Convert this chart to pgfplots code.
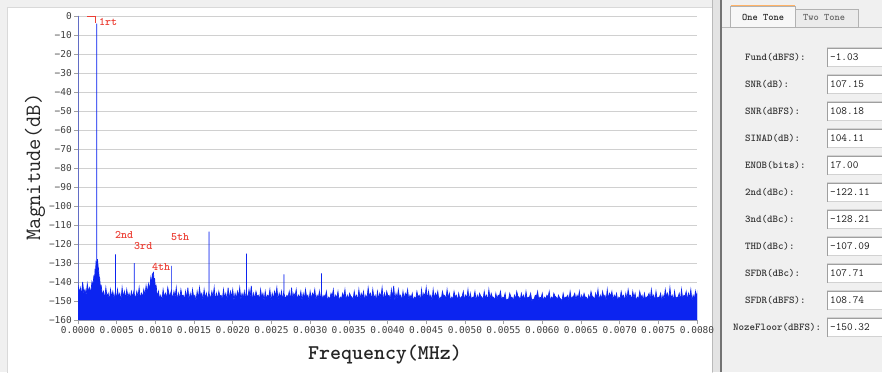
\documentclass[border=0pt]{standalone}
\usepackage{pgfplots}
\usepackage{pgfplotstable}
\pgfplotsset{compat=1.18}
\usepackage{fontspec}
\newfontfamily\tickfont{DejaVu Sans Mono}
\definecolor{specblue}{RGB}{12,36,240}
\definecolor{gridgray}{RGB}{208,208,208}
\definecolor{panelbg}{RGB}{240,240,240}
\definecolor{labred}{RGB}{236,62,52}
\newcommand{\fs}[1]{\fontsize{#1}{#1}\selectfont}

\pgfplotstableread[row sep=\\]{
x y\\
0 -160\\ 0 0\\ 0 -141\\ 0.15 -146\\ 0.3 -143\\ 0.45 -147\\ 0.6 -140\\ 0.75 -146\\ 0.9 -144\\ 1.05 -147\\ 1.2 -141\\ 1.35 -145\\ 1.5 -143\\ 1.65 -146\\ 1.8 -140\\ 1.92 -142\\ 2.05 -137\\ 2.15 -138\\ 2.2 -134\\ 2.27 -135\\ 2.32 -130\\ 2.38 -131\\ 2.42 -128\\ 2.42 -4\\ 2.42 -129\\ 2.47 -130\\ 2.52 -128\\ 2.6 -132\\ 2.65 -133\\ 2.72 -137\\ 2.8 -138\\ 2.9 -143\\ 3.0 -142\\
3.15 -147\\ 3.3 -145\\ 3.45 -149\\ 3.6 -143\\ 3.75 -148\\ 3.9 -146\\ 4.05 -150\\ 4.2 -144\\ 4.35 -148\\ 4.5 -145\\ 4.67 -149\\ 4.84 -145\\ 4.84 -125.5\\ 4.84 -146\\ 4.97 -149\\ 5.1 -144\\ 5.25 -148\\ 5.4 -146\\ 5.55 -150\\ 5.7 -143\\ 5.85 -148\\ 6.0 -145\\ 6.15 -149\\ 6.3 -144\\ 6.45 -148\\ 6.6 -146\\ 6.75 -149\\ 6.9 -145\\ 7.08 -148\\ 7.26 -144\\ 7.26 -130\\ 7.26 -146\\ 7.43 -149\\ 7.6 -145\\ 7.75 -148\\ 7.9 -143\\ 8.05 -149\\ 8.2 -146\\ 8.35 -148\\ 8.5 -144\\ 8.65 -147\\ 8.8 -142\\ 8.95 -146\\ 9.1 -141\\ 9.25 -144\\ 9.4 -138\\ 9.5 -141\\ 9.6 -136\\ 9.75 -135\\ 9.85 -140\\ 9.9 -138\\ 10.0 -143\\ 10.1 -142\\ 10.25 -148\\ 10.4 -145\\ 10.55 -149\\ 10.7 -147\\ 10.85 -150\\ 11.0 -144\\ 11.15 -148\\ 11.3 -146\\ 11.45 -149\\ 11.6 -143\\ 11.85 -148\\ 12.1 -144\\ 12.1 -131.5\\
12.1 -146\\ 12.25 -149\\ 12.4 -145\\ 12.55 -148\\ 12.7 -143\\ 12.85 -150\\ 13.0 -146\\ 13.15 -149\\ 13.3 -144\\ 13.45 -147.5\\ 13.6 -147\\ 13.75 -149.5\\ 13.9 -145\\ 14.05 -148.5\\ 14.2 -143\\ 14.35 -150\\ 14.5 -146\\ 14.65 -149\\ 14.8 -144\\ 14.95 -148\\ 15.1 -147\\ 15.25 -150\\ 15.4 -145\\ 15.55 -149\\ 15.7 -143\\ 15.85 -147.5\\ 16.0 -146\\ 16.15 -149.5\\ 16.3 -144\\ 16.45 -148.5\\ 16.6 -146\\ 16.77 -150\\ 16.94 -144\\ 16.94 -113.5\\ 16.94 -146\\ 17.12 -149\\ 17.3 -145\\ 17.45 -148\\ 17.6 -143\\ 17.75 -150\\ 17.9 -146\\ 18.05 -149\\ 18.2 -145\\ 18.35 -147.5\\ 18.5 -147\\ 18.65 -149.5\\ 18.8 -144\\ 18.95 -148.5\\ 19.1 -146\\ 19.25 -150\\ 19.4 -143\\ 19.55 -149\\ 19.7 -145\\ 19.85 -148\\ 20.0 -144\\ 20.15 -150\\ 20.3 -146\\ 20.45 -149\\ 20.6 -145\\ 20.75 -147.5\\ 20.9 -143\\ 21.05 -149.5\\ 21.2 -146\\ 21.35 -148.5\\ 21.5 -145\\ 21.64 -150\\ 21.78 -143\\ 21.78 -125\\ 21.78 -146\\
21.94 -149\\ 22.1 -144\\ 22.25 -148\\ 22.4 -142\\ 22.55 -150\\ 22.7 -146\\ 22.85 -149\\ 23.0 -145\\ 23.15 -147.5\\ 23.3 -147\\ 23.45 -149.5\\ 23.6 -144\\ 23.75 -148.5\\ 23.9 -146\\ 24.05 -150\\ 24.2 -145\\ 24.35 -149\\ 24.5 -147\\ 24.65 -148\\ 24.8 -144\\ 24.95 -150\\ 25.1 -146\\ 25.25 -149\\ 25.4 -145\\ 25.55 -147.5\\ 25.7 -143\\ 25.85 -149.5\\ 26.0 -146\\ 26.15 -148.5\\ 26.3 -145\\ 26.46 -150\\ 26.62 -144\\ 26.62 -136\\ 26.62 -146\\ 26.8 -149\\ 27.0 -147\\ 27.15 -148\\ 27.3 -145\\ 27.45 -150\\ 27.6 -143\\ 27.75 -149\\ 27.9 -146\\ 28.05 -147.5\\ 28.2 -144\\ 28.35 -149.5\\ 28.5 -147\\ 28.65 -148.5\\ 28.8 -145\\ 28.95 -150\\ 29.1 -146\\ 29.25 -149\\ 29.4 -144\\ 29.55 -148\\ 29.7 -147\\ 29.85 -150\\ 30.0 -145\\ 30.15 -149\\ 30.3 -146\\ 30.45 -147.5\\ 30.6 -144\\ 30.75 -149.5\\ 30.9 -147\\ 31.05 -148.5\\ 31.2 -145\\ 31.33 -150\\ 31.46 -145\\ 31.46 -135.5\\ 31.46 -146\\
31.63 -149\\ 31.8 -147\\ 31.95 -148\\ 32.1 -145\\ 32.25 -150\\ 32.4 -148\\ 32.55 -149\\ 32.7 -146\\ 32.85 -147.5\\ 33.0 -144\\ 33.15 -149.5\\ 33.3 -147\\ 33.45 -148.5\\ 33.6 -145\\ 33.75 -150\\ 33.9 -148\\ 34.05 -149\\ 34.2 -146\\ 34.35 -148\\ 34.5 -144\\ 34.65 -150\\ 34.8 -147\\ 34.95 -149\\ 35.1 -146\\ 35.25 -147.5\\ 35.4 -148\\ 35.55 -149.5\\ 35.7 -145\\ 35.85 -148.5\\ 36.0 -147\\ 36.15 -150\\ 36.3 -144\\ 36.45 -149\\ 36.6 -146\\ 36.75 -148\\ 36.9 -145\\ 37.05 -150\\ 37.2 -147\\ 37.35 -149\\ 37.5 -143\\ 37.65 -147.5\\ 37.8 -146\\ 37.95 -149.5\\ 38.1 -144\\ 38.25 -148.5\\ 38.4 -147\\ 38.55 -150\\ 38.7 -145\\ 38.85 -149\\ 39.0 -146\\ 39.15 -148\\ 39.3 -143\\ 39.45 -150\\ 39.6 -146\\ 39.75 -149\\ 39.9 -145\\ 40.05 -147.5\\ 40.2 -147\\ 40.35 -149.5\\ 40.5 -144\\ 40.65 -148.5\\ 40.8 -142\\ 40.95 -150\\ 41.1 -146\\ 41.25 -149\\ 41.4 -144\\ 41.55 -148\\ 41.7 -147\\ 41.85 -150\\ 42.0 -145\\ 42.15 -149\\ 42.3 -146\\ 42.45 -147.5\\ 42.6 -144\\ 42.75 -149.5\\ 42.9 -147\\ 43.05 -148.5\\ 43.2 -146\\ 43.35 -150\\ 43.5 -148\\ 43.65 -149\\ 43.8 -145\\ 43.95 -148\\ 44.1 -147\\ 44.25 -150\\ 44.4 -144\\ 44.55 -149\\ 44.7 -146\\ 44.85 -147.5\\ 45.0 -143\\ 45.15 -149.5\\ 45.3 -145\\ 45.45 -148.5\\ 45.6 -147\\ 45.75 -150\\ 45.9 -144\\ 46.05 -149\\ 46.2 -146\\ 46.35 -148\\ 46.5 -145\\ 46.65 -150\\ 46.8 -148\\ 46.95 -149\\ 47.1 -145\\ 47.25 -147.5\\ 47.4 -147\\ 47.55 -149.5\\ 47.7 -144\\ 47.85 -148.5\\ 48.0 -146\\ 48.15 -150\\ 48.3 -148\\ 48.45 -149\\ 48.6 -145\\ 48.75 -148\\ 48.9 -147\\ 49.05 -150\\ 49.2 -146\\ 49.35 -149\\ 49.5 -148\\ 49.65 -147.5\\ 49.8 -145\\ 49.95 -149.5\\
50.1 -147\\ 50.25 -148.5\\ 50.4 -144\\ 50.55 -150\\ 50.7 -146\\ 50.85 -149\\ 51.0 -148\\ 51.15 -148\\ 51.3 -145\\ 51.45 -150\\ 51.6 -147\\ 51.75 -149\\ 51.9 -146\\ 52.05 -147.5\\ 52.2 -148\\ 52.35 -149.5\\ 52.5 -145\\ 52.65 -148.5\\ 52.8 -147\\ 52.95 -150\\ 53.1 -144\\ 53.25 -149\\ 53.4 -146\\ 53.55 -148\\ 53.7 -148\\ 53.85 -150\\ 54.0 -146\\ 54.15 -149\\ 54.3 -147\\ 54.45 -147.5\\ 54.6 -145\\ 54.75 -149.5\\ 54.9 -148\\ 55.05 -148.5\\ 55.2 -146\\ 55.35 -150\\ 55.5 -149\\ 55.65 -149\\ 55.8 -146\\ 55.95 -148\\ 56.1 -148\\ 56.25 -150\\ 56.4 -147\\ 56.55 -149\\ 56.7 -145\\ 56.85 -147.5\\ 57.0 -148\\ 57.15 -149.5\\ 57.3 -146\\ 57.45 -148.5\\ 57.6 -147\\ 57.75 -150\\ 57.9 -145\\ 58.05 -149\\ 58.2 -148\\ 58.35 -148\\ 58.5 -146\\ 58.65 -150\\ 58.8 -149\\ 58.95 -149\\ 59.1 -147\\ 59.25 -147.5\\ 59.4 -145\\ 59.55 -149.5\\ 59.7 -148\\ 59.85 -148.5\\ 60.0 -146\\ 60.15 -150\\ 60.3 -148\\ 60.45 -149\\ 60.6 -147\\ 60.75 -148\\ 60.9 -145\\ 61.05 -150\\ 61.2 -148\\ 61.35 -149\\ 61.5 -146\\ 61.65 -147.5\\ 61.8 -148\\ 61.95 -149.5\\ 62.1 -147\\ 62.25 -148.5\\ 62.4 -149\\ 62.55 -150\\ 62.7 -146\\ 62.85 -149\\ 63.0 -148\\ 63.15 -148\\ 63.3 -147\\ 63.45 -150\\ 63.6 -145\\ 63.75 -149\\ 63.9 -148\\ 64.05 -147.5\\ 64.2 -146\\ 64.35 -149.5\\ 64.5 -147\\ 64.65 -148.5\\ 64.8 -145\\ 64.95 -150\\
65.1 -147\\ 65.25 -149\\ 65.4 -146\\ 65.55 -148\\ 65.7 -148\\ 65.85 -150\\ 66.0 -147\\ 66.15 -149\\ 66.3 -145\\ 66.45 -147.5\\ 66.6 -148\\ 66.75 -149.5\\ 66.9 -146\\ 67.05 -148.5\\ 67.2 -144\\ 67.35 -150\\ 67.5 -147\\ 67.65 -149\\ 67.8 -145\\ 67.95 -148\\ 68.1 -147\\ 68.25 -150\\ 68.4 -144\\ 68.55 -149\\ 68.7 -146\\ 68.85 -147.5\\ 69.0 -145\\ 69.15 -149.5\\ 69.3 -147\\ 69.45 -148.5\\ 69.6 -146\\ 69.75 -150\\ 69.9 -148\\ 70.05 -149\\ 70.2 -145\\ 70.35 -148\\ 70.5 -147\\ 70.65 -150\\ 70.8 -146\\ 70.95 -149\\ 71.1 -144\\ 71.25 -147.5\\ 71.4 -147\\ 71.55 -149.5\\ 71.7 -145\\ 71.85 -148.5\\ 72.0 -146\\ 72.15 -150\\ 72.3 -148\\ 72.45 -149\\ 72.6 -145\\ 72.75 -148\\ 72.9 -147\\ 73.05 -150\\ 73.2 -146\\ 73.35 -149\\ 73.5 -148\\ 73.65 -147.5\\ 73.8 -146\\ 73.95 -149.5\\ 74.1 -144\\ 74.25 -148.5\\ 74.4 -147\\ 74.55 -150\\ 74.7 -145\\ 74.85 -149\\ 75.0 -148\\ 75.15 -148\\ 75.3 -146\\ 75.45 -150\\ 75.6 -147\\ 75.75 -149\\ 75.9 -144\\ 76.05 -147.5\\ 76.2 -146\\ 76.35 -149.5\\ 76.5 -143\\ 76.65 -148.5\\ 76.8 -147\\ 76.95 -150\\ 77.1 -145\\ 77.25 -149\\ 77.4 -148\\ 77.55 -148\\ 77.7 -146\\ 77.85 -150\\ 78.0 -144\\ 78.15 -149\\ 78.3 -147\\ 78.45 -147.5\\ 78.6 -145\\ 78.75 -149.5\\ 78.9 -146\\ 79.05 -148.5\\ 79.2 -144\\ 79.35 -150\\ 79.5 -147\\ 79.65 -149\\ 79.8 -145\\ 79.9 -148\\ 80 -146\\ 80 -160\\
}\spectrum

\begin{document}
\begin{tikzpicture}[x=1bp,y=1bp]
% backgrounds
\fill[panelbg] (0,0) rectangle (882,372);
\path[use as bounding box] (0,0) rectangle (882,372);
\filldraw[fill=white, draw=gray!30] (7,-5) rectangle (712,365);
\fill[black!11] (712,0) rectangle (722,372);
\draw[gray!55, line width=0.8bp] (712.5,0) -- (712.5,372);
\draw[black!55, line width=1.2bp] (721,0) -- (721,372);

\begin{axis}[
  at={(78bp,52bp)}, anchor=south west,
  scale only axis, width=619bp, height=304bp,
  xmin=0, xmax=80, ymin=-160, ymax=0,
  axis x line*=bottom, axis y line*=left,
  axis line style={gray!70, line width=0.6bp},
  tick style={gray!75, line width=0.6bp},
  major tick length=4bp, tick align=outside,
  ymajorgrids, grid style={gridgray, line width=0.7bp},
  xtick={0,5,...,80},
  xticklabels={0.0000,0.0005,0.0010,0.0015,0.0020,0.0025,0.0030,0.0035,0.0040,0.0045,0.0050,0.0055,0.0060,0.0065,0.0070,0.0075,0.0080},
  ytick={-160,-150,...,0},
  yticklabels={−160,−150,−140,−130,−120,−110,−100,−90,−80,−70,−60,−50,−40,−30,−20,−10,0},
  ticklabel style={font=\tickfont\fs{9.5}, text=black!75},
  xticklabel style={inner sep=2bp},
  yticklabel style={inner sep=2bp},
]
\addplot[draw=specblue, fill=specblue, line width=0.7bp, line join=miter] table[x=x, y=y] {\spectrum};
\addplot[labred, line width=0.8bp] coordinates {(1.2,-0.4) (2.3,-0.4) (2.3,-3.8)};
\node[labred, anchor=west, inner sep=0, font=\ttfamily\bfseries\fs{11.5}] at (axis cs:2.7,-3.4) {1rt};
\node[labred, anchor=west, inner sep=0, font=\ttfamily\bfseries\fs{11.5}] at (axis cs:4.78,-115.3) {2nd};
\node[labred, anchor=west, inner sep=0, font=\ttfamily\bfseries\fs{11.5}] at (axis cs:7.24,-121) {3rd};
\node[labred, anchor=west, inner sep=0, font=\ttfamily\bfseries\fs{11.5}] at (axis cs:9.56,-132) {4th};
\node[labred, anchor=west, inner sep=0, font=\ttfamily\bfseries\fs{11.5}] at (axis cs:12.0,-116.3) {5th};
\end{axis}

% axis titles
\node[font=\ttfamily\bfseries\fs{21}, text=black!85] at (385,17) {Frequency(MHz)};
\node[font=\ttfamily\fs{22}, text=black!85, rotate=90] at (35,205) {Magnitude(dB)};

% tabs
\draw[gray!55] (722,345) -- (882,345);
\filldraw[fill=black!8, draw=gray!60] (795,345) rectangle (858,363);
\filldraw[fill=white!97!black, draw=gray!60] (730,345) rectangle (795,366);
\draw[orange!60, line width=1bp] (730.5,366) -- (794.5,366);
\node[anchor=west, inner sep=0, font=\ttfamily\bfseries\fs{10}, text=black!85] at (742,355) {One Tone};
\node[anchor=west, inner sep=0, font=\ttfamily\bfseries\fs{10}, text=black!60] at (803,355) {Two Tone};

% value rows
\foreach \xl/\lab/\val [count=\i from 0] in {
  745/Fund(dBFS):/-1.03,
  745/SNR(dB):/107.15,
  745/SNR(dBFS):/108.18,
  745/SINAD(dB):/104.11,
  745/ENOB(bits):/17.00,
  745/2nd(dBc):/-122.11,
  745/3nd(dBc):/-128.21,
  745/THD(dBc):/-107.09,
  745/SFDR(dBc):/107.71,
  745/SFDR(dBFS):/108.74,
  733/NozeFloor(dBFS):/-150.32}
{
  \pgfmathsetmacro{\yy}{315-27*\i}
  \node[anchor=west, inner sep=0, font=\ttfamily\bfseries\fs{10.5}, text=black!80] at (\xl,\yy) {\lab};
  \filldraw[fill=white, draw=gray!35] (827,\yy-9.5) rectangle (887,\yy+9.5);
  \draw[gray!75] (827.5,\yy-9.5) -- (827.5,\yy+9) -- (887,\yy+9);
  \node[anchor=west, inner sep=0, font=\ttfamily\fs{11}, text=black!90] at (830,\yy) {\val};
}
\end{tikzpicture}
\end{document}
